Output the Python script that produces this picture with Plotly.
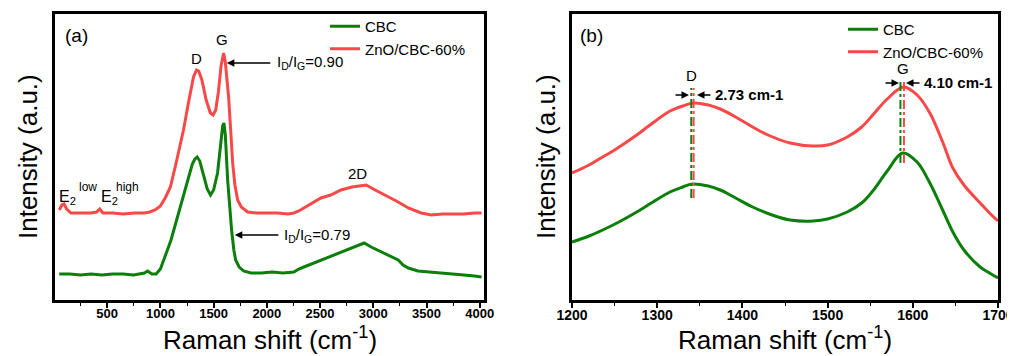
import plotly.graph_objects as go

# ---------------- data: panel (a) full Raman spectra ----------------
a_wn_cbc = [50, 150, 250, 350, 450, 550, 650, 750, 850, 880, 920, 960, 1000, 1030, 1066, 1100,
            1140, 1188, 1230, 1264, 1300, 1325, 1345, 1370, 1400, 1440, 1471, 1500, 1537, 1565,
            1585, 1597, 1610, 1632, 1650, 1669, 1690, 1707, 1740, 1782, 1850, 1950, 2050, 2150,
            2254, 2300, 2348, 2420, 2508, 2600, 2697, 2800, 2914, 2980, 3074, 3150, 3234, 3280,
            3329, 3420, 3546, 3650, 3750, 3850, 3950, 4017]
a_int_cbc = [26, 26, 25, 26, 25, 26, 26, 25, 27, 29, 26, 26, 31, 39, 50, 60,
             75, 93, 110, 123, 136, 141, 143, 139, 128, 111, 105, 110, 127, 152,
             174, 177, 165, 120, 90, 70, 50, 40, 33, 29, 27, 27, 28, 27,
             28, 31, 33, 36, 40, 44, 48, 52, 57, 53, 48, 44, 40, 35,
             32, 29, 28, 27, 26, 25, 24, 23]

a_wn_zno = [50, 75, 95, 120, 160, 250, 350, 400, 430, 460, 550, 650, 750, 850, 900, 950, 1000,
            1050, 1094, 1150, 1217, 1265, 1311, 1340, 1360, 1390, 1430, 1470, 1495, 1520, 1545,
            1570, 1594, 1610, 1630, 1641, 1660, 1679, 1700, 1726, 1760, 1820, 1900, 2000, 2100,
            2200, 2254, 2300, 2400, 2508, 2600, 2697, 2800, 2933, 3000, 3074, 3150, 3234, 3329,
            3450, 3546, 3650, 3750, 3850, 3950, 4017]
a_int_zno = [90, 95, 96, 91, 87, 87, 87, 88, 91, 87, 87, 86, 87, 87, 88, 90, 94,
             103, 113, 138, 170, 198, 223, 230, 229, 220, 200, 187, 185, 190, 208,
             234, 247, 238, 215, 203, 170, 137, 115, 100, 93, 88, 87, 87, 87,
             86, 87, 89, 95, 102, 105, 110, 113, 115, 111, 107, 103, 98, 92,
             87, 85, 86, 86, 86, 87, 87]

# ---------------- data: panel (b) D/G region ----------------
b_wn_cbc = [1200, 1220, 1236, 1255, 1276, 1295, 1315, 1330, 1341, 1360, 1374, 1390, 1412, 1435,
            1456, 1483, 1500, 1523, 1540, 1553, 1570, 1588, 1605, 1620, 1635, 1647, 1660, 1679,
            1690, 1700]
b_int_cbc = [58, 64, 70, 78, 88, 98, 108, 113, 116, 114, 110, 103, 93, 85,
             80, 79, 81, 88, 97, 109, 129, 147, 138, 117, 90, 68, 50, 33,
             27, 22]

b_wn_zno = [1200, 1220, 1236, 1250, 1276, 1290, 1315, 1330, 1342, 1360, 1374, 1390, 1412, 1430,
            1456, 1483, 1500, 1523, 1540, 1553, 1570, 1589, 1605, 1620, 1635, 1647, 1660, 1679,
            1690, 1700]
b_int_zno = [127, 135, 143, 150, 165, 174, 189, 194, 197, 195, 191, 184, 173, 165,
             157, 154, 155, 163, 173, 185, 201, 213, 205, 187, 158, 132, 115, 97,
             87, 79]

# peak positions (cm-1) and marker-line extents
d_peak = {"CBC": 1340.0, "ZnO/CBC-60%": 1342.73}
g_peak = {"CBC": 1585.5, "ZnO/CBC-60%": 1589.6}
d_line_span = [102, 212]
g_line_span = [137, 220]

a_xticks = [500, 1000, 1500, 2000, 2500, 3000, 3500, 4000]
b_xticks = [1200, 1300, 1400, 1500, 1600, 1700]

GREEN = "#0b7f0b"
RED = "#f84848"
FONT = "Liberation Sans, Arial, sans-serif"

# the page body has an 8px margin, so the figure is placed at (8, 8) in the window
OFF = 8
W, H = 1015, 356

def px_x(p):
    return (p - OFF) / W

def px_y(p):
    return 1 - (p - OFF) / H

fig = go.Figure()

fig.add_trace(go.Scatter(x=a_wn_cbc, y=a_int_cbc, mode="lines", name="CBC",
                         line=dict(color=GREEN, width=3), xaxis="x", yaxis="y", legend="legend"))
fig.add_trace(go.Scatter(x=a_wn_zno, y=a_int_zno, mode="lines", name="ZnO/CBC-60%",
                         line=dict(color=RED, width=3), xaxis="x", yaxis="y", legend="legend"))
fig.add_trace(go.Scatter(x=b_wn_cbc, y=b_int_cbc, mode="lines", name="CBC",
                         line=dict(color=GREEN, width=3, shape="spline", smoothing=1),
                         xaxis="x2", yaxis="y2", legend="legend2"))
fig.add_trace(go.Scatter(x=b_wn_zno, y=b_int_zno, mode="lines", name="ZnO/CBC-60%",
                         line=dict(color=RED, width=3, shape="spline", smoothing=1),
                         xaxis="x2", yaxis="y2", legend="legend2"))

# dash-dot peak position lines
for peaks, span in ((d_peak, d_line_span), (g_peak, g_line_span)):
    for name, col in (("CBC", GREEN), ("ZnO/CBC-60%", RED)):
        fig.add_trace(go.Scatter(x=[peaks[name], peaks[name]], y=span, mode="lines",
                                 line=dict(color=col, width=2, dash="dashdot"),
                                 showlegend=False, hoverinfo="skip", xaxis="x2", yaxis="y2"))

x_a_dom = [px_x(55), px_x(484)]
x_b_dom = [px_x(572), px_x(998)]
y_dom = [px_y(300), px_y(14)]

axis_common = dict(showline=True, linecolor="black", linewidth=2.5, mirror=True,
                   showgrid=False, zeroline=False, automargin=False)

fig.update_layout(
    width=W, height=H, autosize=False,
    margin=dict(l=0, r=0, t=0, b=0, pad=0, autoexpand=False),
    paper_bgcolor="white", plot_bgcolor="white",
    font=dict(family=FONT, color="black"),
    xaxis=dict(domain=x_a_dom, range=[10, 4040], tickvals=a_xticks, ticks="outside",
               ticklen=5, tickwidth=1.5, tickcolor="black", ticklabelstandoff=-5,
               minor=dict(ticks="outside", ticklen=3, tickwidth=1.2, tickcolor="black", dtick=250),
               tickfont=dict(size=13, weight="bold", family=FONT), anchor="y", **axis_common),
    yaxis=dict(domain=y_dom, range=[0, 286], showticklabels=False, ticks="", anchor="x", **axis_common),
    xaxis2=dict(domain=x_b_dom, range=[1200, 1700], tickvals=b_xticks, ticks="outside",
                ticklen=5, tickwidth=1.5, tickcolor="black", ticklabelstandoff=-5,
                minor=dict(ticks="outside", ticklen=3, tickwidth=1.2, tickcolor="black", dtick=50),
                tickfont=dict(size=14, weight="bold", family=FONT), anchor="y2", **axis_common),
    yaxis2=dict(domain=y_dom, range=[0, 286], showticklabels=False, ticks="", anchor="x2", **axis_common),
    legend=dict(x=px_x(325), y=px_y(10), xanchor="left", yanchor="top",
                font=dict(size=15, family=FONT), bgcolor="rgba(0,0,0,0)",
                tracegroupgap=0, itemwidth=30),
    legend2=dict(x=px_x(843), y=px_y(13), xanchor="left", yanchor="top",
                 font=dict(size=15, family=FONT), bgcolor="rgba(0,0,0,0)",
                 tracegroupgap=0, itemwidth=30),
)

ann = []
def text(x, y, t, size=15, xanchor="center", xref="x", yref="y", bold=False, **kw):
    ann.append(dict(x=x, y=y, text=t, xref=xref, yref=yref, showarrow=False,
                    xanchor=xanchor, yanchor="middle",
                    font=dict(size=size, family=FONT, color="black",
                              weight="bold" if bold else "normal"), **kw))

def arrow(x, y, ax, xref, yref):
    ann.append(dict(x=x, y=y, ax=ax, ay=0, xref=xref, yref=yref, axref="pixel", ayref="pixel",
                    showarrow=True, arrowhead=2, arrowsize=1, arrowwidth=1.5,
                    arrowcolor="black", text=""))

# panel labels
text(px_x(63), px_y(35), "(a)", size=19, xanchor="left", xref="paper", yref="paper")
text(px_x(578), px_y(36), "(b)", size=19, xanchor="left", xref="paper", yref="paper")

# axis titles
for cx in (px_x(269.5), px_x(785)):
    text(cx, px_y(338), "Raman shift (cm<sup>-1</sup>)", size=26, xref="paper", yref="paper")
for cx in (px_x(28), px_x(546)):
    text(cx, px_y(157), "Intensity (a.u.)", size=26, xref="paper", yref="paper", textangle=-90)

# panel (a) annotations
text(1342, 242, "D", size=15)
text(1577, 261, "G", size=15)
text(2853, 127, "2D", size=15)
arrow(1624, 237, 45, "x", "y")
text(2074, 238, "I<sub>D</sub>/I<sub>G</sub>=0.90", size=15, xanchor="left")
arrow(1699, 65, 45, "x", "y")
text(2143, 65, "I<sub>D</sub>/I<sub>G</sub>=0.79", size=15, xanchor="left")
text(30, 103, "E<sub>2</sub>", size=16, xanchor="left")
text(216, 113, "low", size=12, xanchor="left")
text(420, 103, "E<sub>2</sub>", size=16, xanchor="left")
text(564, 113, "high", size=12, xanchor="left")

# panel (b) annotations
text(1340.8, 225, "D", size=15, xref="x2", yref="y2")
text(1588.5, 232, "G", size=15, xref="x2", yref="y2")
arrow(1337.3, 205, -15, "x2", "y2")
arrow(1346.7, 205, 15, "x2", "y2")
text(1365.5, 206, "2.73 cm-1", size=15, xanchor="left", xref="x2", yref="y2", bold=True)
arrow(1583.8, 217, -15, "x2", "y2")
arrow(1592.0, 217, 15, "x2", "y2")
text(1610.8, 218, "4.10 cm-1", size=15, xanchor="left", xref="x2", yref="y2", bold=True)

fig.update_layout(annotations=ann)

fig.write_html("out.html")
